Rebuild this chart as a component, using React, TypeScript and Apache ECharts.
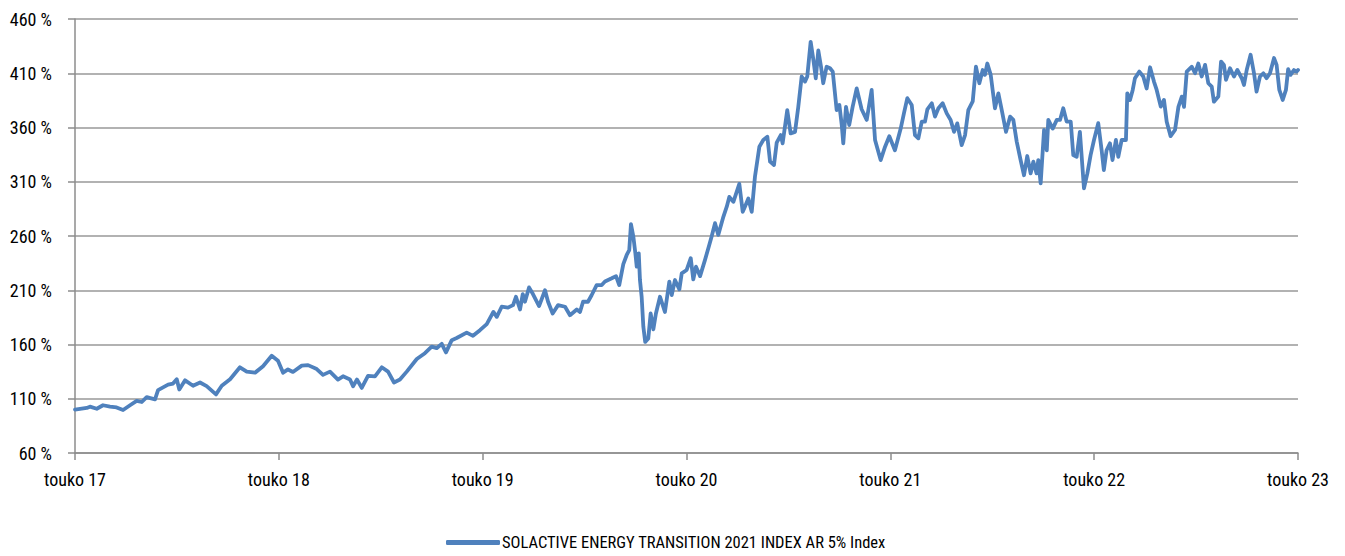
import React, { useEffect, useRef } from "react";
import * as echarts from "echarts";

const seriesName = "SOLACTIVE ENERGY TRANSITION 2021 INDEX AR 5% Index";
const xTickLabels = ["touko 17", "touko 18", "touko 19", "touko 20", "touko 21", "touko 22", "touko 23"];

// months since touko 17
const months = [
  0.0, 0.69, 0.88, 1.28, 1.65, 2.06, 2.45, 2.83, 3.24, 3.63, 3.93, 4.22, 4.71, 4.89, 5.48, 5.77, 5.99, 6.14, 6.48, 6.95,
  7.36, 7.75, 8.3, 8.64, 9.13, 9.71, 10.11, 10.6, 11.07, 11.58, 11.95, 12.25, 12.54, 12.83, 13.35, 13.72, 14.23, 14.6, 15.01, 15.48,
  15.78, 16.19, 16.37, 16.6, 16.88, 17.25, 17.66, 18.06, 18.43, 18.78, 19.13, 19.53, 20.12, 20.6, 21.0, 21.29, 21.59, 21.84, 22.18, 22.47,
  23.06, 23.43, 23.84, 24.24, 24.63, 24.83, 25.12, 25.49, 25.79, 25.96, 26.2, 26.36, 26.49, 26.73, 26.96, 27.32, 27.67, 27.85, 28.12, 28.44,
  28.85, 29.14, 29.54, 29.73, 29.91, 30.2, 30.42, 30.71, 31.01, 31.2, 31.6, 31.85, 32.04, 32.28, 32.48, 32.63, 32.73, 32.87, 32.99, 33.07,
  33.19, 33.26, 33.36, 33.46, 33.57, 33.75, 33.89, 34.05, 34.2, 34.44, 34.73, 34.99, 35.13, 35.32, 35.58, 35.72, 36.01, 36.25, 36.4, 36.56,
  36.8, 37.09, 37.34, 37.48, 37.68, 37.87, 38.17, 38.37, 38.52, 38.76, 39.11, 39.31, 39.44, 39.64, 39.84, 40.03, 40.29, 40.52, 40.76, 40.92,
  41.15, 41.31, 41.55, 41.66, 41.93, 42.13, 42.39, 42.58, 42.78, 42.98, 43.11, 43.31, 43.47, 43.61, 43.76, 43.92, 44.05, 44.25, 44.45, 44.61,
  44.84, 45.0, 45.14, 45.23, 45.39, 45.58, 45.78, 46.02, 46.31, 46.61, 46.9, 47.1, 47.43, 47.69, 47.94, 48.27, 48.61, 48.8, 49.0, 49.26,
  49.45, 49.65, 49.85, 50.04, 50.18, 50.44, 50.63, 50.83, 51.08, 51.32, 51.55, 51.75, 51.94, 52.2, 52.4, 52.59, 52.85, 53.04, 53.24, 53.44,
  53.57, 53.71, 53.91, 54.16, 54.36, 54.56, 54.81, 55.05, 55.24, 55.44, 55.67, 55.87, 56.06, 56.26, 56.42, 56.61, 56.71, 56.85, 57.05, 57.21,
  57.3, 57.56, 57.8, 57.99, 58.18, 58.38, 58.62, 58.77, 58.97, 59.16, 59.4, 59.6, 59.79, 59.99, 60.24, 60.44, 60.57, 60.73, 60.93, 61.08,
  61.28, 61.42, 61.62, 61.87, 61.95, 62.11, 62.27, 62.4, 62.66, 62.89, 63.09, 63.29, 63.52, 63.68, 63.92, 64.11, 64.27, 64.5, 64.76, 64.96,
  65.16, 65.29, 65.45, 65.75, 65.94, 66.13, 66.33, 66.53, 66.72, 66.92, 67.05, 67.31, 67.47, 67.64, 67.76, 68.0, 68.23, 68.43, 68.69, 68.82,
  68.98, 69.21, 69.41, 69.56, 69.76, 69.96, 70.15, 70.35, 70.59, 70.74, 70.9, 71.1, 71.29, 71.42, 71.56, 71.76, 71.91, 72.0,
];

const values = [
  100, 101.5, 102.7, 100.8, 104, 102.7, 102, 99.6, 104, 108, 107, 111.5, 109.4, 118, 123, 124, 128, 118.5, 127, 122,
  125, 121.6, 114, 122, 128, 139, 135, 134, 140, 149.6, 145, 134, 137, 134.7, 140.5, 141, 137.4, 132, 135, 127.7,
  130.7, 127.7, 121.6, 127.7, 120, 131, 130.7, 139, 135, 125, 127.7, 135, 146.6, 152, 158, 156.6, 160.6, 152.7, 164, 166,
  171, 168, 173.2, 178.8, 190, 185.5, 194.8, 194, 196.3, 204, 192.3, 206.5, 199.4, 212.6, 206.5, 195.4, 210, 199.4, 188.6, 196.3,
  194.8, 187, 192.3, 190, 199.4, 199.4, 205.6, 214.8, 214.8, 218, 221, 223, 214.8, 234, 242.5, 247, 271, 259.5, 244, 231.7,
  244, 219.4, 204, 176.3, 162.4, 165.5, 188.6, 174, 188.6, 204, 190, 218, 205.6, 219.4, 210.8, 225.6, 228.7, 239.5, 220, 231.7,
  223, 238, 251.8, 259.5, 271.8, 261, 277.7, 287, 296, 291.5, 308, 282.3, 287, 294.6, 282.3, 314.6, 342.3, 348.5, 351.5, 328.5,
  325.4, 346, 353, 345.4, 376, 354.6, 356, 379, 407, 402.3, 407, 439, 422.3, 405.4, 431, 416, 400.8, 416, 414.6, 411.5,
  376, 380.8, 362.3, 345.4, 379, 362.3, 379, 396, 376.8, 367, 394.6, 348.5, 330, 342.3, 352, 339, 359, 373, 387, 380.8,
  353, 350, 365.4, 365.4, 376.8, 382.3, 370, 377.7, 382.3, 373, 367, 356, 363.8, 343.8, 353, 376, 384, 416, 400.8, 413,
  408.5, 419, 408.5, 377.7, 391.5, 376, 356, 370, 367, 347, 330, 316, 333.7, 317.7, 328.5, 317.7, 330, 308.5, 357.7, 339,
  367, 359, 367, 367, 377.7, 365.4, 365.4, 334.6, 333, 356, 304, 317.7, 334.6, 348.5, 364, 339, 320.8, 339, 345.4, 330,
  348.5, 333, 348.5, 348.5, 391.5, 385.4, 394.6, 405.4, 411.5, 407, 396, 415.5, 402.3, 394.6, 379.2, 385.4, 365.4, 352, 357.7, 379,
  388.5, 379, 411.5, 416, 410, 419, 407, 417.7, 400.8, 397.7, 383.8, 388.5, 420.8, 417.7, 404, 414.6, 407, 413, 405.4, 399.2,
  413, 427, 410, 393, 407, 410, 405.4, 410, 424, 417.7, 394.6, 385.4, 394.6, 413.7, 408.5, 413, 411.5, 413,
];

const FONT = "'Roboto Condensed', 'Liberation Sans Narrow', sans-serif";

export default function App() {
  const ref = useRef<HTMLDivElement>(null);
  useEffect(() => {
    if (!ref.current) return;
    const chart = echarts.init(ref.current, undefined, { renderer: "svg" });
    const data = months.map((m, i) => [m, values[i]]);
    chart.setOption({
      animation: false,
      backgroundColor: "#ffffff",
      textStyle: { fontFamily: FONT },
      grid: { left: 75, right: 47, top: 19, bottom: 103, containLabel: false },
      legend: {
        show: true,
        left: 441,
        top: 529,
        icon: "roundRect",
        itemWidth: 54,
        itemHeight: 5,
        itemGap: 10,
        textStyle: { fontFamily: FONT, fontSize: 16.5, color: "#000", padding: [0, 0, 0, -3] },
        data: [seriesName],
      },
      xAxis: {
        type: "value",
        min: 0,
        max: 72,
        interval: 12,
        axisLine: { show: true, lineStyle: { color: "#8c8c8c", width: 1.5 } },
        axisTick: { show: true, length: 7, lineStyle: { color: "#8c8c8c", width: 1.5 } },
        splitLine: { show: false },
        axisLabel: {
          margin: 17,
          fontFamily: FONT,
          fontSize: 18,
          color: "#000",
          formatter: (v: number) => xTickLabels[Math.round(v / 12)] ?? "",
        },
      },
      yAxis: {
        type: "value",
        min: 60,
        max: 460,
        interval: 50,
        axisLine: { show: true, lineStyle: { color: "#8c8c8c", width: 1.5 } },
        axisTick: { show: true, length: 7, lineStyle: { color: "#8c8c8c", width: 1.5 } },
        splitLine: { show: true, lineStyle: { color: "#999999", width: 1.5 } },
        axisLabel: {
          margin: 23,
          fontFamily: FONT,
          fontSize: 18,
          color: "#000",
          formatter: (v: number) => `${v} %`,
        },
      },
      series: [
        {
          name: seriesName,
          type: "line",
          data,
          showSymbol: false,
          symbol: "none",
          lineStyle: { color: "#4f81bd", width: 3.8, cap: "round", join: "round" },
          itemStyle: { color: "#4f81bd" },
          z: 3,
        },
      ],
    });
    return () => chart.dispose();
  }, []);
  return <div ref={ref} style={{ position: "fixed", left: 0, top: 0, width: 1345, height: 556 }} />;
}
